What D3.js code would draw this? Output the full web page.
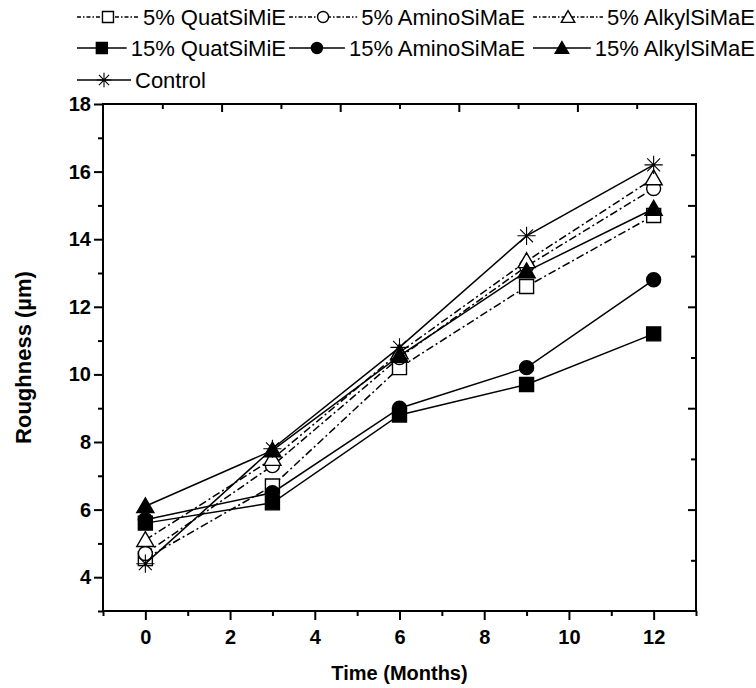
<!DOCTYPE html>
<html>
<head>
<meta charset="utf-8">
<script src="https://cdn.jsdelivr.net/npm/d3@7"></script>
<style>
  body { margin: 0; background: #fff; }
  text { font-family: "Liberation Sans", Arial, sans-serif; }
</style>
</head>
<body>
<script>
// Set up size
let width = 756;
let height = 688;

// data
let months = [0, 3, 6, 9, 12];
let seriesNames = ['5% QuatSiMiE', '5% AminoSiMaE', '5% AlkylSiMaE',
  '15% QuatSiMiE', '15% AminoSiMaE', '15% AlkylSiMaE', 'Control'];
let quat5 = [4.55, 6.7, 10.2, 12.6, 14.7];
let amino5 = [4.7, 7.3, 10.5, 13.2, 15.5];
let alkyl5 = [5.1, 7.5, 10.65, 13.35, 15.8];
let quat15 = [5.6, 6.2, 8.8, 9.7, 11.2];
let amino15 = [5.7, 6.5, 9.0, 10.2, 12.8];
let alkyl15 = [6.1, 7.75, 10.55, 13.05, 14.9];
let control = [4.4, 7.8, 10.8, 14.1, 16.2];
let seriesValues = [quat5, amino5, alkyl5, quat15, amino15, alkyl15, control];
let seriesSymbols = ['square', 'circle', 'triangle', 'square', 'circle', 'triangle', 'star'];
let seriesFilled = [false, false, false, true, true, true, false];
let seriesDashed = [true, true, true, false, false, false, false];

let xMajorTicks = [0, 2, 4, 6, 8, 10, 12];
let xMinorTicks = [-1, 1, 3, 5, 7, 9, 11, 13];
let yMajorTicks = [4, 6, 8, 10, 12, 14, 16, 18];
let yMinorTicks = [3, 5, 7, 9, 11, 13, 15, 17];

let plot = { left: 103, right: 696, top: 104, bottom: 611 };

let x = d3.scaleLinear().domain([-1, 13]).range([plot.left, plot.right]);
let y = d3.scaleLinear().domain([3, 18]).range([plot.bottom, plot.top]);

let svg = d3.select('body').append('svg')
  .attr('width', width)
  .attr('height', height);

// marker drawing
function drawMarker(g, type, filled, size) {
  let fill = filled ? '#000' : '#fff';
  if (type === 'star') {
    let r = size * 0.65;
    let d = r * 0.707;
    g.append('path')
      .attr('d', `M${-r},0H${r}M0,${-r}V${r}M${-d},${-d}L${d},${d}M${-d},${d}L${d},${-d}`)
      .attr('stroke', '#000').attr('stroke-width', 1.1).attr('fill', 'none');
    return;
  }
  let area = type === 'circle' ? Math.PI * (size / 2) * (size / 2)
    : type === 'triangle' ? size * size * 0.65 : size * size;
  let sym = type === 'circle' ? d3.symbolCircle
    : type === 'triangle' ? d3.symbolTriangle : d3.symbolSquare;
  let tr = type === 'triangle' ? 'translate(0,1.5)' : null;
  g.append('path')
    .attr('d', d3.symbol().type(sym).size(area)())
    .attr('transform', tr)
    .attr('fill', fill)
    .attr('stroke', '#000')
    .attr('stroke-width', 1.4);
}

// frame
svg.append('rect')
  .attr('x', plot.left).attr('y', plot.top)
  .attr('width', plot.right - plot.left).attr('height', plot.bottom - plot.top)
  .attr('fill', 'none').attr('stroke', '#000').attr('stroke-width', 2);

function styleAxis(g) {
  g.select('.domain').remove();
  g.selectAll('line').attr('stroke', '#000').attr('stroke-width', 2);
  g.selectAll('text')
    .attr('fill', '#000')
    .style('font-size', '20px')
    .style('font-weight', 'bold');
}

svg.append('g')
  .attr('transform', `translate(0,${plot.bottom})`)
  .call(d3.axisBottom(x).tickValues(xMajorTicks).tickSize(9).tickPadding(10).tickFormat(d3.format('d')))
  .call(styleAxis);
svg.append('g')
  .attr('transform', `translate(0,${plot.bottom})`)
  .call(d3.axisBottom(x).tickValues(xMinorTicks).tickSize(5).tickFormat(''))
  .call(styleAxis);
svg.append('g')
  .attr('transform', `translate(${plot.left},0)`)
  .call(d3.axisLeft(y).tickValues(yMajorTicks).tickSize(9).tickPadding(3).tickFormat(d3.format('d')))
  .call(styleAxis);
svg.append('g')
  .attr('transform', `translate(${plot.left},0)`)
  .call(d3.axisLeft(y).tickValues(yMinorTicks).tickSize(5).tickFormat(''))
  .call(styleAxis);

// opposite axes: ten equal steps, inward ticks
let topScale = d3.scaleLinear().domain([0, 10]).range([plot.left, plot.right]);
let rightScale = d3.scaleLinear().domain([0, 10]).range([plot.bottom, plot.top]);
let steps = d3.range(1, 10);
svg.append('g')
  .attr('transform', `translate(0,${plot.top})`)
  .call(d3.axisTop(topScale).tickValues(steps.filter(d => d % 2 === 0)).tickSize(-8).tickFormat(''))
  .call(styleAxis);
svg.append('g')
  .attr('transform', `translate(0,${plot.top})`)
  .call(d3.axisTop(topScale).tickValues(steps.filter(d => d % 2 === 1)).tickSize(-5).tickFormat(''))
  .call(styleAxis);
svg.append('g')
  .attr('transform', `translate(${plot.right},0)`)
  .call(d3.axisRight(rightScale).tickValues(steps.filter(d => d % 2 === 0)).tickSize(-8).tickFormat(''))
  .call(styleAxis);
svg.append('g')
  .attr('transform', `translate(${plot.right},0)`)
  .call(d3.axisRight(rightScale).tickValues(steps.filter(d => d % 2 === 1)).tickSize(-5).tickFormat(''))
  .call(styleAxis);

// axis titles
svg.append('text')
  .attr('x', (plot.left + plot.right) / 2)
  .attr('y', 680)
  .attr('text-anchor', 'middle')
  .style('font-size', '20px').style('font-weight', 'bold')
  .text('Time (Months)');
svg.append('text')
  .attr('transform', `translate(31,${(plot.top + plot.bottom) / 2}) rotate(-90)`)
  .attr('text-anchor', 'middle')
  .style('font-size', '22px').style('font-weight', 'bold')
  .text('Roughness (µm)');

// series
let line = d3.line().x((d, i) => x(months[i])).y(d => y(d));
seriesValues.forEach(function(vals, s) {
  let g = svg.append('g');
  g.append('path')
    .attr('d', line(vals))
    .attr('fill', 'none')
    .attr('stroke', '#000')
    .attr('stroke-width', 1.5)
    .attr('stroke-dasharray', seriesDashed[s] ? '8,3,2,3' : null);
  vals.forEach(function(v, i) {
    let m = g.append('g').attr('transform', `translate(${x(months[i])},${y(v)})`);
    drawMarker(m, seriesSymbols[s], seriesFilled[s], 14);
  });
});

// legend, three rows; text right-aligned in fixed columns
let legendRows = [[0, 1, 2], [3, 4, 5], [6]];
let rowY = [17, 48, 80];
let colStart = [77, 289, 533];
let colEnd = [286, 525, 755];
legendRows.forEach(function(row, r) {
  row.forEach(function(s, c) {
    let g = svg.append('g').attr('transform', `translate(0,${rowY[r]})`);
    let t = g.append('text')
      .attr('y', 8)
      .style('font-size', '22px')
      .text(seriesNames[s]);
    let tw = t.node().getComputedTextLength();
    let tx = row.length > 1 ? colEnd[c] - tw : colStart[c] + 58;
    t.attr('x', tx);
    let x2 = tx - 4;
    g.append('line')
      .attr('x1', colStart[c]).attr('x2', x2).attr('y1', 0).attr('y2', 0)
      .attr('stroke', '#000').attr('stroke-width', 1.5)
      .attr('stroke-dasharray', seriesDashed[s] ? '4,2,1.5,2' : null);
    let m = g.append('g').attr('transform', `translate(${(colStart[c] + x2) / 2},0)`);
    drawMarker(m, seriesSymbols[s], seriesFilled[s], 11);
  });
});
</script>
</body>
</html>
